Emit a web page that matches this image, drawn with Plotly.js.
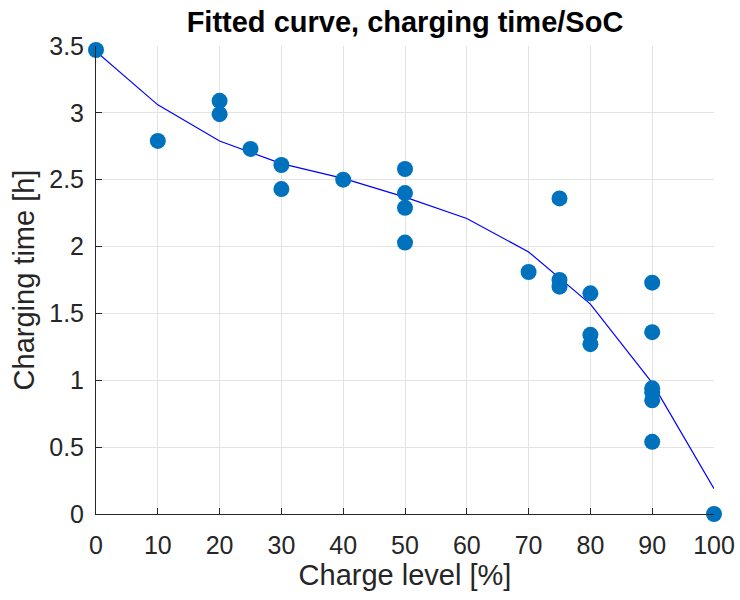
<!DOCTYPE html>
<html>
<head>
<meta charset="utf-8">
<script src="https://cdn.plot.ly/plotly-3.0.1.min.js"></script>
<style>html,body{margin:0;padding:0;background:#fff;}#chart{width:740px;height:600px;}</style>
</head>
<body>
<div id="chart"></div>
<script>
// Measured data points (charge level %, charging time h)
const chargeLevel = [0, 10, 20, 20, 25, 30, 30, 40, 50, 50, 50, 50, 70, 75, 75, 75, 80, 80, 80, 90, 90, 90, 90, 90, 90, 100];
const chargeTime  = [3.47, 2.79, 3.09, 2.99, 2.73, 2.61, 2.43, 2.50, 2.58, 2.40, 2.29, 2.03, 1.81, 2.36, 1.75, 1.70, 1.65, 1.34, 1.27, 1.73, 1.36, 0.94, 0.91, 0.85, 0.54, 0];
// Fitted curve
const fitX = [0, 10, 20, 30, 40, 50, 60, 70, 80, 90, 100];
const fitY = [3.46, 3.06, 2.79, 2.62, 2.51, 2.37, 2.21, 1.96, 1.57, 0.98, 0.19];
const xTicks = [0, 10, 20, 30, 40, 50, 60, 70, 80, 90, 100];
const yTicks = [0, 0.5, 1, 1.5, 2, 2.5, 3, 3.5];

const font = 'Liberation Sans, Arial, Helvetica, sans-serif';
const traces = [
  {x: fitX, y: fitY, mode: 'lines', type: 'scatter', line: {color: '#0000FF', width: 1.2}, cliponaxis: false, hoverinfo: 'skip'},
  {x: chargeLevel, y: chargeTime, mode: 'markers', type: 'scatter', marker: {color: '#0072BD', size: 16}, cliponaxis: false}
];
const layout = {
  width: 740, height: 600,
  margin: {l: 96, r: 26, t: 46, b: 86},
  paper_bgcolor: '#fff', plot_bgcolor: '#fff',
  showlegend: false,
  font: {family: font, color: '#262626', size: 25},
  title: {text: '<b>Fitted curve, charging time/SoC</b>', font: {family: font, size: 29, color: '#000'}, xref: 'paper', x: 0.5, xanchor: 'center', yref: 'container', y: 0.963, yanchor: 'middle'},
  xaxis: {
    range: [0, 100], tickvals: xTicks, ticktext: xTicks.map(String),
    showgrid: true, gridcolor: '#e3e3e3', gridwidth: 1,
    showline: true, linecolor: '#262626', linewidth: 1,
    ticks: 'inside', ticklen: 6, tickcolor: '#262626',
    zeroline: false, tickfont: {size: 25, color: '#262626'},
    ticklabelstandoff: 9,
    title: {text: 'Charge level [%]', font: {size: 29, color: '#262626'}, standoff: 5}
  },
  yaxis: {
    range: [0, 3.5], tickvals: yTicks, ticktext: yTicks.map(String),
    showgrid: true, gridcolor: '#e3e3e3', gridwidth: 1,
    showline: true, linecolor: '#262626', linewidth: 1,
    ticks: 'inside', ticklen: 6, tickcolor: '#262626',
    zeroline: false, tickfont: {size: 25, color: '#262626'},
    ticklabelstandoff: 6,
    title: {text: 'Charging time [h]', font: {size: 29, color: '#262626'}, standoff: 6}
  }
};
Plotly.newPlot('chart', traces, layout, {displayModeBar: false, staticPlot: true});
</script>
</body>
</html>
